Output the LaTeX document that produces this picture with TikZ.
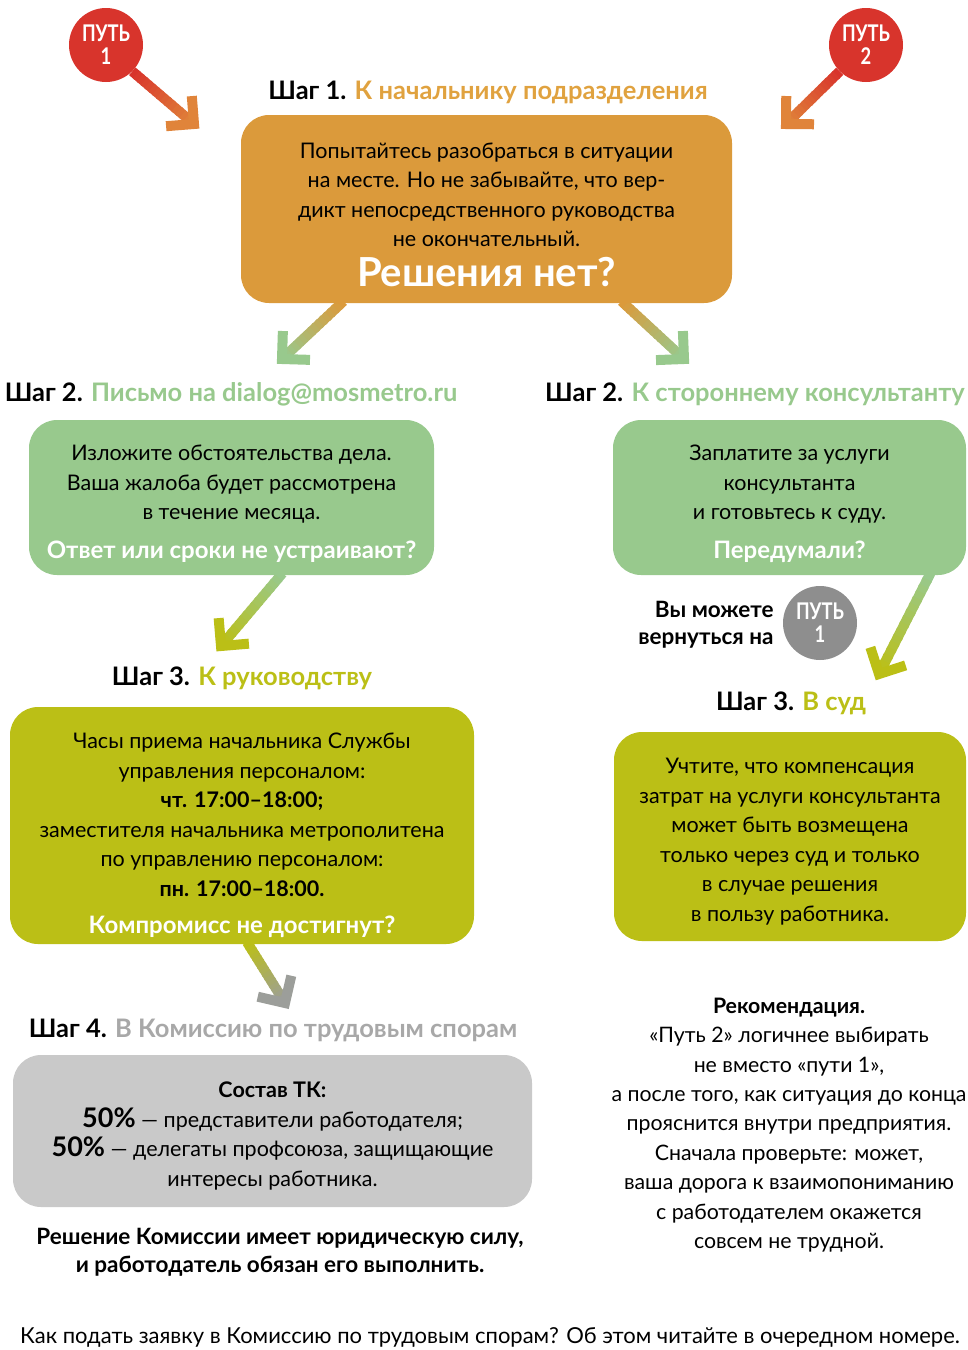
\documentclass[tikz,border=0pt]{standalone}
\usepackage{fontspec}
\setmainfont{Lato}
\usepackage{graphicx}
\usetikzlibrary{calc,backgrounds,positioning}
\usepackage{xcolor}

\definecolor{putred}{HTML}{D8342C}
\definecolor{putgray}{HTML}{8E8E8E}
\definecolor{boxorange}{HTML}{DB9A3B}
\definecolor{boxgreen}{HTML}{98C98D}
\definecolor{boxolive}{HTML}{BBBF16}
\definecolor{boxgray}{HTML}{C9C9C9}
\definecolor{arrorange}{HTML}{E0843A}
\definecolor{arrgray}{HTML}{9C9E9A}
\definecolor{headorange}{HTML}{E0A23F}
\definecolor{headgray}{HTML}{A8A8A8}

% thick arrow with a colour run from #3 to #4
\newcommand{\gradarrow}[4]{%
  \foreach \i in {0,...,15}{%
    \pgfmathsetmacro{\mixp}{100-100*\i/15}%
    \pgfmathsetmacro{\ta}{\i/16}%
    \pgfmathsetmacro{\tb}{min(1,(\i+1.4)/16)}%
    \draw[line width=10pt, color=#3!\mixp!#4] ($(#1)!\ta!(#2)$) -- ($(#1)!\tb!(#2)$);
  }%
  \draw[line width=10pt, color=#4, line join=miter] ($(#2)!28pt!45:(#1)$) -- (#2) -- ($(#2)!28pt!-45:(#1)$);
}
\newcommand{\putlabel}[1]{\scalebox{0.8}[1]{#1}}
\newcommand{\ask}[1]{{\fontsize{24}{29.5}\selectfont\bfseries\color{white}#1}}
\newcommand{\topgap}[1]{\rule{0pt}{#1}}

\begin{document}
\begin{tikzpicture}[x=1pt,y=-1pt]
  \tikzstyle{stepbox} = [rectangle, rounded corners=28pt, align=center, inner sep=0pt, font=\fontsize{21.5}{29.5}\selectfont]
  \tikzstyle{stephead} = [font=\fontsize{25.5}{28}\selectfont\bfseries]
  \tikzstyle{putcircle} = [circle, minimum size=74pt, inner sep=0pt, text=white, align=center, font=\fontsize{23}{23}\selectfont\bfseries]
  \tikzstyle{plain} = [align=center, font=\fontsize{21.3}{29.4}\selectfont]

  \useasboundingbox (0,0) rectangle (967,1350);

  \node[putcircle, fill=putred] (p1) at (106,45) {\putlabel{ПУТЬ}\\\putlabel{1}};
  \node[putcircle, fill=putred] (p2) at (866,45) {\putlabel{ПУТЬ}\\\putlabel{2}};

  \node[stephead] (h1) at (488,92) {Шаг 1. \textcolor{headorange}{К начальнику подразделения}};
  \node[stepbox, fill=boxorange, minimum width=491pt, minimum height=188pt] (o1) at (486.5,209)
    {\topgap{27pt}Попытайтесь разобраться в ситуации\\на месте. Но не забывайте, что вер-\\дикт непосредственного руководства\\не окончательный.\\[10pt]{\fontsize{40}{40}\selectfont\bfseries\color{white}Решения нет?}};

  \node[stephead] (h2a) at (231,394) {Шаг 2. \textcolor{boxgreen}{Письмо на dialog@mosmetro.ru}};
  \node[stepbox, fill=boxgreen, minimum width=405pt, minimum height=155pt] (g1) at (231.5,497.5)
    {\topgap{28pt}Изложите обстоятельства дела.\\Ваша жалоба будет рассмотрена\\в течение месяца.\\[9pt]\ask{Ответ или сроки не устраивают?}};

  \node[stephead] (h2b) at (755,394) {Шаг 2. \textcolor{boxgreen}{К стороннему консультанту}};
  \node[stepbox, fill=boxgreen, minimum width=353pt, minimum height=155pt] (g2) at (789.5,497.5)
    {\topgap{28pt}Заплатите за услуги\\консультанта\\и готовьтесь к суду.\\[9pt]\ask{Передумали?}};

  \node[putcircle, fill=putgray] (p3) at (820,623) {\putlabel{ПУТЬ}\\\putlabel{1}};
  \node[align=right, anchor=east, font=\fontsize{22.5}{27}\selectfont\bfseries] (back) at (777,625) {Вы можете\\вернуться на};

  \node[stephead] (h3a) at (242,678) {Шаг 3. \textcolor{boxolive}{К руководству}};
  \node[stepbox, fill=boxolive, minimum width=464pt, minimum height=237pt] (y1) at (242,825.5)
    {\topgap{36pt}Часы приема начальника Службы\\управления персоналом:\\\textbf{чт. 17:00--18:00;}\\заместителя начальника метрополитена\\по управлению персоналом:\\\textbf{пн. 17:00--18:00.}\\[8pt]\ask{Компромисс не достигнут?}};

  \node[stephead] (h3b) at (791,703) {Шаг 3. \textcolor{boxolive}{В суд}};
  \node[stepbox, fill=boxolive, minimum width=352pt, minimum height=209pt] (y2) at (790,836.5)
    {\topgap{26pt}Учтите, что компенсация\\затрат на услуги консультанта\\может быть возмещена\\только через суд и только\\в случае решения\\в пользу работника.};

  \node[stephead] (h4) at (273,1030) {Шаг 4. \textcolor{headgray}{В Комиссию по трудовым спорам}};
  \node[stepbox, fill=boxgray, minimum width=519pt, minimum height=152pt] (k1) at (272.5,1131)
    {\topgap{26pt}\textbf{Состав ТК:}\\{\fontsize{27}{29.5}\selectfont\bfseries 50\%} — представители работодателя;\\{\fontsize{27}{29.5}\selectfont\bfseries 50\%} — делегаты профсоюза, защищающие\\интересы работника.};

  \node[plain, font=\fontsize{22.5}{28}\selectfont\bfseries] (res) at (280,1252)
    {Решение Комиссии имеет юридическую силу,\\и работодатель обязан его выполнить.};

  \node[plain] (rec) at (789,1125)
    {\textbf{Рекомендация.}\\«Путь 2» логичнее выбирать\\не вместо «пути 1»,\\а после того, как ситуация до конца\\прояснится внутри предприятия.\\Сначала проверьте: может,\\ваша дорога к взаимопониманию\\с работодателем окажется\\совсем не трудной.};

  \node[plain, font=\fontsize{22}{26}\selectfont] (foot) at (490,1337) {Как подать заявку в Комиссию по трудовым спорам? Об этом читайте в очередном номере.};

  % starts and free ends of the arrows
  \coordinate (s3) at ($(o1.south)+(-143,-2)$);
  \coordinate (s4) at ($(o1.south)+(135,-2)$);
  \coordinate (s5) at ($(g1.south)+(51,-2)$);
  \coordinate (s6) at ($(g2.south)+(141,-2)$);
  \coordinate (s7) at ($(y1.south)+(5,-2)$);
  \coordinate (t1) at (194,124);
  \coordinate (t2) at (786,124);
  \coordinate (t3) at (282,359);
  \coordinate (t4) at (684,359);
  \coordinate (t5) at (221,646);
  \coordinate (t6) at (879,674);
  \coordinate (t7) at (285,1003);

  \begin{scope}[on background layer]
    \gradarrow{p1.-45}{t1}{putred}{arrorange}
    \gradarrow{p2.-135}{t2}{putred}{arrorange}
    \gradarrow{s3}{t3}{boxorange}{boxgreen}
    \gradarrow{s4}{t4}{boxorange}{boxgreen}
    \gradarrow{s5}{t5}{boxgreen}{boxolive}
    \gradarrow{s6}{t6}{boxgreen}{boxolive}
    \gradarrow{s7}{t7}{boxolive}{arrgray}
  \end{scope}
\end{tikzpicture}
\end{document}
